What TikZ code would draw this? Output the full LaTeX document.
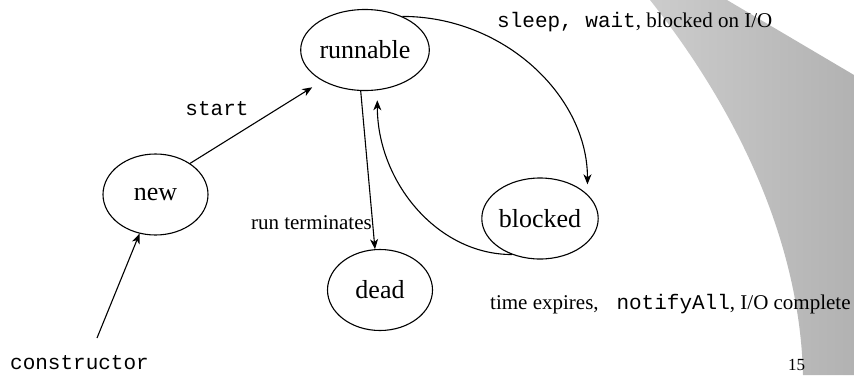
\documentclass[tikz,border=0pt]{standalone}
\usepackage{fontspec}
\setmainfont{Liberation Serif}
\setmonofont{Liberation Mono}
\usetikzlibrary{shapes.geometric,arrows.meta}
\definecolor{bandlight}{RGB}{204,204,204}
\definecolor{banddark}{RGB}{178,178,178}
\begin{document}
\begin{tikzpicture}[x=1pt,y=-1pt,
  state/.style={ellipse,draw,line width=1.1pt,minimum width=105pt,minimum height=81pt,inner sep=0pt,font=\fontsize{26}{30}\selectfont},
  lbl/.style={inner sep=0pt,font=\fontsize{21}{25}\selectfont},
  arr/.style={line width=1.1pt,-{Stealth[length=10pt,width=8pt,inset=3pt]}}]
\useasboundingbox (0,0) rectangle (854,375);
\shade[left color=bandlight,right color=banddark] (650,0) -- (727,0) -- (854,75) -- (854,375) -- (803,375) .. controls (800,250) and (745,120) .. (650,0) -- cycle;

\node[state] (runnable) at (365,50) {runnable};
\node[state] (new) at (155.5,194.5) {new};
\node[state] (blocked) at (540,218.5) {blocked};
\node[state] (dead) at (380,290) {dead};

\node[lbl,anchor=west] (sl) at (497,22.5) {\texttt{sleep, wait}, blocked on I/O};
\node[lbl,anchor=west] (te) at (490,304) {time expires,\ \texttt{\ notifyAll}, I/O complete};
\node[lbl] (st) at (217,109) {\texttt{start}};
\node[lbl,anchor=west] (co) at (10,363) {\texttt{constructor}};
\node[lbl,anchor=east] (rt) at (372,223) {run terminates};
\node[inner sep=0pt,anchor=base west,font=\fontsize{17}{20}\selectfont] (pg) at (788,370.5) {15};

\coordinate (cst) at (97,338);
\draw[arr] (cst) -- (new);
\draw[arr,shorten >=12pt] (new.42) -- (runnable.216);
\draw[arr] (runnable.264) -- (dead.97);
\draw[arr,shorten >=10pt] (runnable.42) .. controls +(102,0) and +(0,-98) .. (blocked.27);
\draw[arr,shorten >=10pt] (blocked.232) .. controls +(-75,0) and +(0,91) .. (runnable.287);
\end{tikzpicture}
\end{document}
